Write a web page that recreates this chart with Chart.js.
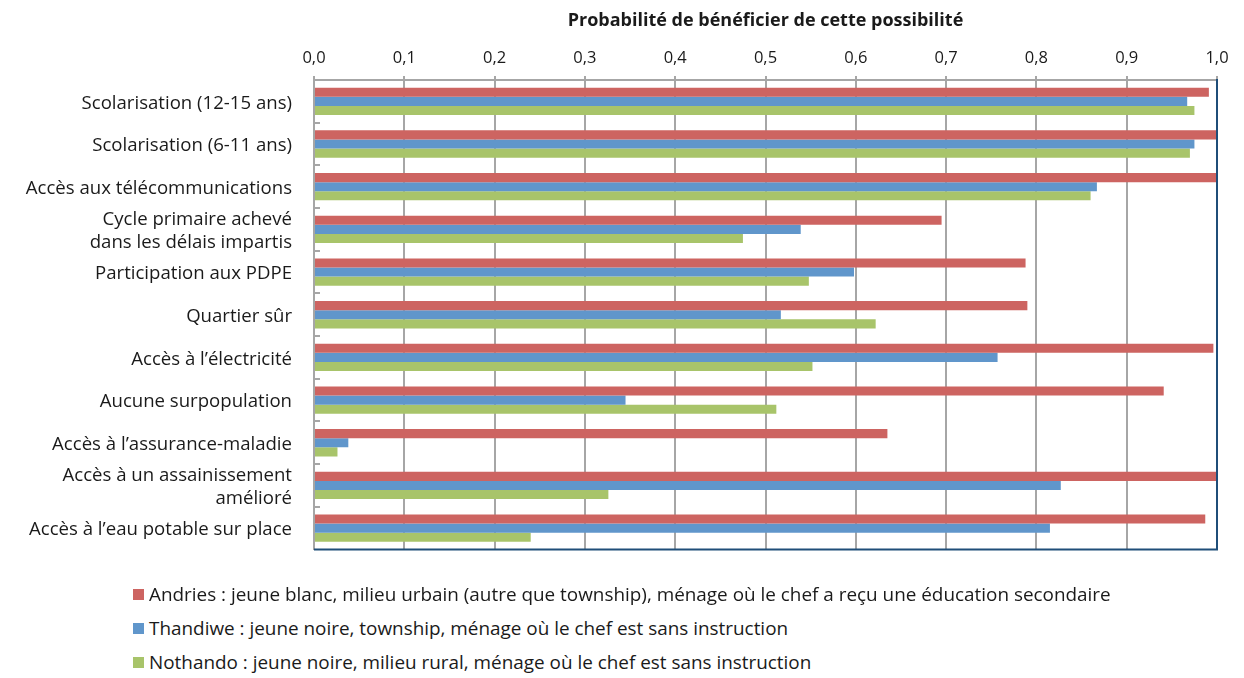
<!DOCTYPE html>
<html lang="fr">
<head>
<meta charset="utf-8">
<script src="https://cdn.jsdelivr.net/npm/chart.js@4"></script>
<style>
  html, body { margin: 0; padding: 0; background: #ffffff; }
  #wrap { position: relative; width: 1244px; height: 678px; overflow: hidden; }
  #chartBox { position: absolute; left: 0; top: 0; width: 1244px; height: 583px; }
  #legend { position: absolute; left: 133px; top: 583px; font-family: "Open Sans", sans-serif; font-size: 18.9px; color: #1a1a1a; }
  .li { position: absolute; left: 0; white-space: nowrap; height: 22px; line-height: 22px; }
  .sw { position: absolute; left: 0; top: 6px; width: 11px; height: 11px; }
  .tx { position: absolute; left: 16px; top: 0; }
</style>
</head>
<body>
<div id="wrap">
  <div id="chartBox"><canvas id="c"></canvas></div>
  <div id="legend"></div>
</div>
<script>
const categories = [
  "Scolarisation (12-15 ans)",
  "Scolarisation (6-11 ans)",
  "Accès aux télécommunications",
  ["Cycle primaire achevé", "dans les délais impartis"],
  "Participation aux PDPE",
  "Quartier sûr",
  "Accès à l’électricité",
  "Aucune surpopulation",
  "Accès à l’assurance-maladie",
  ["Accès à un assainissement", "amélioré"],
  "Accès à l’eau potable sur place"
];
const seriesNames = [
  "Andries : jeune blanc, milieu urbain (autre que township), ménage où le chef a reçu une éducation secondaire",
  "Thandiwe : jeune noire, township, ménage où le chef est sans instruction",
  "Nothando : jeune noire, milieu rural, ménage où le chef est sans instruction"
];
const andries  = [0.991, 0.999, 0.999, 0.695, 0.788, 0.790, 0.996, 0.941, 0.635, 1.000, 0.987];
const thandiwe = [0.967, 0.975, 0.867, 0.539, 0.598, 0.517, 0.757, 0.345, 0.038, 0.827, 0.815];
const nothando = [0.975, 0.970, 0.860, 0.475, 0.548, 0.622, 0.552, 0.512, 0.026, 0.326, 0.240];
const xTicks = [0, 0.1, 0.2, 0.3, 0.4, 0.5, 0.6, 0.7, 0.8, 0.9, 1.0];
const axisTitle = "Probabilité de bénéficier de cette possibilité";
const colors = ["#CD6461", "#6096CB", "#A8C46A"];

const FONT = "'Open Sans', sans-serif";

const framePlugin = {
  id: 'frame',
  afterDatasetsDraw(chart) {
    const { ctx, chartArea: a, scales } = chart;
    ctx.save();
    ctx.strokeStyle = '#a6a6a6';
    ctx.lineWidth = 2;
    const y = scales.y;
    const n = categories.length;
    for (let i = 1; i < n; i++) {
      const yy = Math.round((y.getPixelForTick(i - 1) + y.getPixelForTick(i)) / 2);
      ctx.beginPath();
      ctx.moveTo(a.left, yy);
      ctx.lineTo(a.left + 6, yy);
      ctx.stroke();
    }
    ctx.strokeStyle = '#1F4E79';
    ctx.lineWidth = 2;
    ctx.beginPath();
    ctx.moveTo(a.right, a.top - 1);
    ctx.lineTo(a.right, a.bottom);
    ctx.lineTo(a.left, a.bottom);
    ctx.stroke();
    ctx.restore();
  }
};

const chart = new Chart(document.getElementById('c'), {
  type: 'bar',
  data: {
    labels: categories,
    datasets: [
      { label: seriesNames[0], data: andries,  backgroundColor: colors[0] },
      { label: seriesNames[1], data: thandiwe, backgroundColor: colors[1] },
      { label: seriesNames[2], data: nothando, backgroundColor: colors[2] }
    ]
  },
  options: {
    indexAxis: 'y',
    responsive: true,
    maintainAspectRatio: false,
    animation: false,
    layout: { padding: { left: 0, right: 27, top: 0, bottom: 12 } },
    datasets: { bar: { categoryPercentage: 0.64, barPercentage: 1.0 } },
    plugins: {
      legend: { display: false },
      tooltip: { enabled: false }
    },
    scales: {
      x: {
        position: 'top',
        min: 0, max: 1,
        afterBuildTicks(scale) { scale.ticks = xTicks.map(v => ({ value: v })); },
        afterFit(scale) { scale.height = 80; },
        ticks: {
          color: '#1a1a1a',
          font: { family: FONT, size: 16.5 },
          padding: 8,
          maxRotation: 0,
          callback: v => Number(v).toFixed(1).replace('.', ',')
        },
        grid: { color: '#a6a6a6', lineWidth: 2, tickLength: 4, drawTicks: true },
        border: { display: true, color: '#a6a6a6', width: 2 },
        title: {
          display: true,
          text: axisTitle,
          color: '#1a1a1a',
          font: { family: FONT, size: 18, weight: 'bold' },
          padding: { top: 10, bottom: 0 }
        }
      },
      y: {
        afterFit(scale) { scale.width = 314; },
        ticks: {
          color: '#1a1a1a',
          font: { family: FONT, size: 18.6, lineHeight: 1.24 },
          padding: 22,
          labelOffset: 2,
          autoSkip: false
        },
        grid: { display: false, drawTicks: false },
        border: { display: true, color: '#a6a6a6', width: 2 }
      }
    }
  },
  plugins: [framePlugin]
});

const lg = document.getElementById('legend');
chart.data.datasets.forEach((ds, i) => {
  const row = document.createElement('div');
  row.className = 'li';
  row.style.top = (i * 34) + 'px';
  const sw = document.createElement('span');
  sw.className = 'sw';
  sw.style.background = ds.backgroundColor;
  const tx = document.createElement('span');
  tx.className = 'tx';
  tx.textContent = ds.label;
  row.appendChild(sw);
  row.appendChild(tx);
  lg.appendChild(row);
});
</script>
</body>
</html>
